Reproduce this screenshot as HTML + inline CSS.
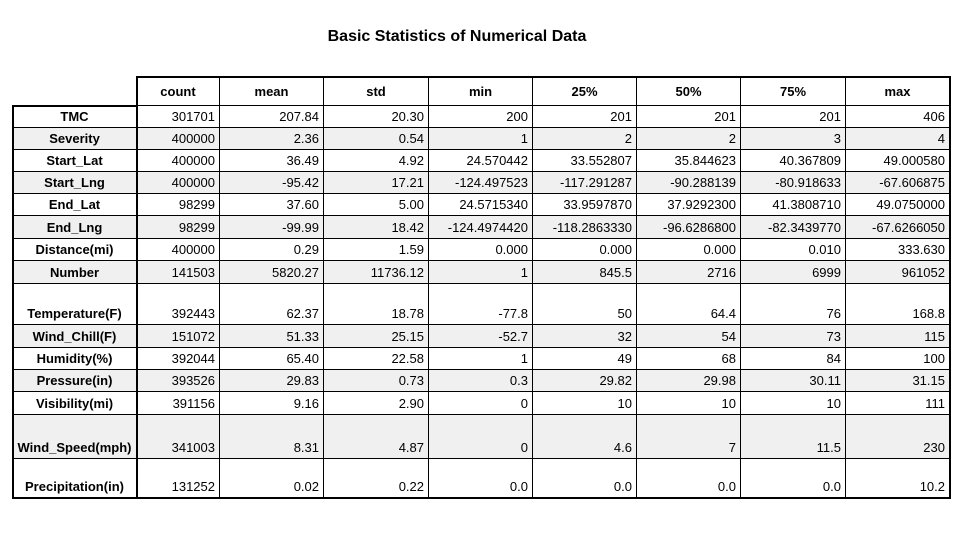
<!DOCTYPE html>
<html><head><meta charset="utf-8"><style>
body{margin:0;width:960px;height:540px;background:#fff;font-family:"Liberation Sans",Arial,sans-serif;position:relative;overflow:hidden}
.c{position:absolute;box-sizing:border-box;border-right:1px solid #000;border-bottom:1px solid #000;font-size:13px;color:#000;display:flex;align-items:center;padding:0 4px}
.h{justify-content:center;font-weight:bold}
.v{justify-content:flex-end}
#title{position:absolute;left:0;width:914px;top:28px;text-align:center;font-weight:bold;font-size:16px}
</style></head><body>
<div id="title">Basic Statistics of Numerical Data</div>
<div id="t"></div>
<script>
const columns=["count","mean","std","min","25%","50%","75%","max"];
const rowLabels=["TMC","Severity","Start_Lat","Start_Lng","End_Lat","End_Lng","Distance(mi)","Number","Temperature(F)","Wind_Chill(F)","Humidity(%)","Pressure(in)","Visibility(mi)","Wind_Speed(mph)","Precipitation(in)"];
const values=[
["301701","207.84","20.30","200","201","201","201","406"],
["400000","2.36","0.54","1","2","2","3","4"],
["400000","36.49","4.92","24.570442","33.552807","35.844623","40.367809","49.000580"],
["400000","-95.42","17.21","-124.497523","-117.291287","-90.288139","-80.918633","-67.606875"],
["98299","37.60","5.00","24.5715340","33.9597870","37.9292300","41.3808710","49.0750000"],
["98299","-99.99","18.42","-124.4974420","-118.2863330","-96.6286800","-82.3439770","-67.6266050"],
["400000","0.29","1.59","0.000","0.000","0.000","0.010","333.630"],
["141503","5820.27","11736.12","1","845.5","2716","6999","961052"],
["392443","62.37","18.78","-77.8","50","64.4","76","168.8"],
["151072","51.33","25.15","-52.7","32","54","73","115"],
["392044","65.40","22.58","1","49","68","84","100"],
["393526","29.83","0.73","0.3","29.82","29.98","30.11","31.15"],
["391156","9.16","2.90","0","10","10","10","111"],
["341003","8.31","4.87","0","4.6","7","11.5","230"],
["131252","0.02","0.22","0.0","0.0","0.0","0.0","10.2"]];
const rowBounds=[105,127,149,171,193,215,238,260,283,324,347,369,391,414,458,497];
const colBounds=[12,136,219,323,428,532,636,740,845,949];
const shaded=[1,3,5,7,9,11,13];
const t=document.getElementById('t');
function cell(x0,x1,y0,y1,txt,cls,bg,name){
  const d=document.createElement('div');
  d.className='c '+cls;
  d.style.left=(x0+1)+'px';d.style.top=(y0+1)+'px';d.style.width=(x1-x0)+'px';d.style.height=(y1-y0)+'px';
  if(bg)d.style.background=bg;
  const h=y1-y0;
  if(h>30)d.style.paddingTop=(h-22)+'px';
  d.textContent=txt;
  
  
  t.appendChild(d);return d;
}
function line(x,y,w,h,name){
  const d=document.createElement('div');
  d.style.cssText='position:absolute;background:#000;left:'+x+'px;top:'+y+'px;width:'+w+'px;height:'+h+'px';
  
  
  t.appendChild(d);
}
columns.forEach((c,i)=>{
  cell(colBounds[i+1],colBounds[i+2],77,rowBounds[0],c,'h',null,'column-header');
});
rowLabels.forEach((r,ri)=>{
  const bg=shaded.includes(ri)?'#f0f0f0':null;
  const y0=rowBounds[ri],y1=rowBounds[ri+1];
  cell(colBounds[0],colBounds[1],y0,y1,r,'h',bg,'row-label');
  values[ri].forEach((v,ci)=>{
    cell(colBounds[ci+1],colBounds[ci+2],y0,y1,v,'v',bg,'value-cell');
  });
});
// outer borders
line(colBounds[1],76,colBounds[9]-colBounds[1]+2,2,'header-top-border');
line(colBounds[1],76,2,rowBounds[0]-76+2,'header-left-border');
line(colBounds[0],rowBounds[0],colBounds[1]-colBounds[0]+2,2,'body-top-border');
line(colBounds[0],rowBounds[0],2,rowBounds[15]-rowBounds[0]+2,'body-left-border');
line(colBounds[1],rowBounds[0],2,rowBounds[15]-rowBounds[0]+2,'row-label-right-border');
line(colBounds[9],76,2,rowBounds[15]-76+2,'right-border');
line(colBounds[0],rowBounds[15],colBounds[9]-colBounds[0]+2,2,'bottom-border');
</script>
</body></html>
